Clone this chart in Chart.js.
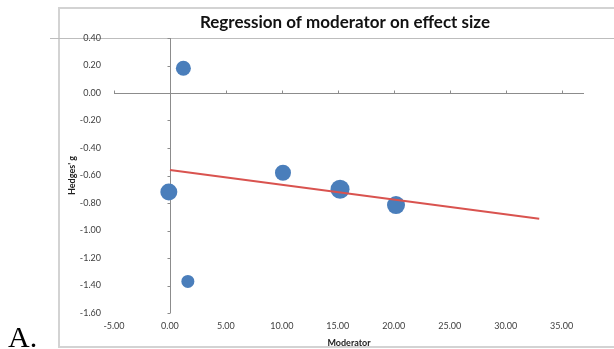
<!DOCTYPE html>
<html lang="en">
<head>
<meta charset="UTF-8">
<title>Regression of moderator on effect size</title>
<script src="https://cdn.jsdelivr.net/npm/chart.js@4/dist/chart.umd.min.js"></script>
<style>
  body { margin: 0; background: #fff; }
  #wrap { position: relative; width: 614px; height: 349px; }
</style>
</head>
<body>
<div id="wrap"><canvas id="chart" width="614" height="349"></canvas></div>
<script>
// study points: moderator value, Hedges' g and study weight (bubble size)
const moderator = [-0.1, 1.2, 1.6, 10.1, 15.2, 20.2];
const hedgesG = [-0.72, 0.18, -1.37, -0.58, -0.70, -0.815];
const studyWeight = [8.5, 7.5, 6.5, 8, 9.5, 9];

// fitted regression line end points
const fitX = [0, 33];
const fitY = [-0.56, -0.914];

const xTicks = [-5, 0, 5, 10, 15, 20, 25, 30, 35];
const yTicks = [0.4, 0.2, 0, -0.2, -0.4, -0.6, -0.8, -1.0, -1.2, -1.4, -1.6];

const tickFont = { family: 'Lato, "Open Sans", sans-serif', size: 9 };
const axisGrey = '#8c8c8c';

// outer frame, page label and chart heading
const decorations = {
  id: 'decorations',
  beforeDraw(chart) {
    const ctx = chart.ctx;
    ctx.save();
    ctx.strokeStyle = '#d3d3d3';
    ctx.lineWidth = 2;
    ctx.beginPath();
    ctx.moveTo(614, 8); ctx.lineTo(59, 8); ctx.lineTo(59, 347); ctx.lineTo(614, 347);
    ctx.stroke();

    ctx.strokeStyle = '#bdbdbd';
    ctx.lineWidth = 1;
    ctx.beginPath();
    ctx.moveTo(50, 38.5); ctx.lineTo(614, 38.5);
    ctx.stroke();

    ctx.fillStyle = '#000';
    ctx.font = '30px "Liberation Serif", "Times New Roman", serif';
    ctx.textAlign = 'left';
    ctx.textBaseline = 'alphabetic';
    ctx.fillText('A.', 8, 347);

    ctx.font = 'bold 17px Lato, "Open Sans", sans-serif';
    ctx.textAlign = 'center';
    ctx.fillStyle = '#111';
    ctx.fillText('Regression of moderator on effect size', 345, 28);
    ctx.restore();
  },
  // axes cross at zero
  beforeDatasetsDraw(chart) {
    const { ctx, chartArea, scales: { x, y } } = chart;
    const x0 = Math.round(x.getPixelForValue(0)) + 0.5;
    const y0 = Math.round(y.getPixelForValue(0)) + 0.5;
    ctx.save();
    ctx.strokeStyle = axisGrey;
    ctx.lineWidth = 1;
    ctx.beginPath();
    ctx.moveTo(x0, chartArea.top); ctx.lineTo(x0, chartArea.bottom);
    ctx.moveTo(chartArea.left, y0); ctx.lineTo(chartArea.right, y0);
    yTicks.forEach(v => {
      const py = Math.round(y.getPixelForValue(v)) + 0.5;
      ctx.moveTo(x0 - 3, py); ctx.lineTo(x0, py);
    });
    xTicks.forEach(v => {
      const px = Math.round(x.getPixelForValue(v)) + 0.5;
      ctx.moveTo(px, y0 - 3); ctx.lineTo(px, y0);
    });
    ctx.stroke();
    ctx.restore();
  }
};

new Chart(document.getElementById('chart'), {
  type: 'bubble',
  data: {
    datasets: [
      {
        type: 'line',
        data: fitX.map((v, i) => ({ x: v, y: fitY[i] })),
        borderColor: '#d9534f',
        borderWidth: 2,
        pointRadius: 0,
        fill: false,
        order: 0
      },
      {
        data: moderator.map((v, i) => ({ x: v, y: hedgesG[i], r: studyWeight[i] })),
        backgroundColor: '#4a7ebb',
        borderColor: '#4a7ebb',
        borderWidth: 0,
        order: 1
      }
    ]
  },
  options: {
    responsive: false,
    animation: false,
    events: [],
    layout: { padding: { left: 60, top: 38, right: 30, bottom: 0 } },
    plugins: { legend: { display: false }, tooltip: { enabled: false } },
    scales: {
      x: {
        type: 'linear',
        min: -5,
        max: 37,
        afterBuildTicks: s => { s.ticks = xTicks.map(v => ({ value: v })); },
        afterFit: s => { s.height = 36; },
        grid: { display: false, drawTicks: false },
        border: { display: false },
        ticks: {
          font: tickFont, color: '#404040', padding: 8,
          maxRotation: 0, autoSkip: false,
          callback: v => v.toFixed(2)
        },
        title: {
          display: true, text: 'Moderator', color: '#222',
          font: { family: 'Lato, "Open Sans", sans-serif', size: 9, weight: 'bold' },
          padding: { top: 0, bottom: 1 }
        }
      },
      y: {
        type: 'linear',
        min: -1.6,
        max: 0.4,
        afterBuildTicks: s => { s.ticks = yTicks.map(v => ({ value: v })); },
        afterFit: s => { s.width = 54; },
        grid: { display: false, drawTicks: false },
        border: { display: false },
        ticks: {
          font: tickFont, color: '#404040', padding: 13,
          autoSkip: false,
          callback: v => v.toFixed(2)
        },
        title: {
          display: true, text: "Hedges' g", color: '#222',
          font: { family: 'Lato, "Open Sans", sans-serif', size: 9, weight: 'bold' },
          padding: { top: 7, bottom: 0 }
        }
      }
    }
  },
  plugins: [decorations]
});
</script>
</body>
</html>
